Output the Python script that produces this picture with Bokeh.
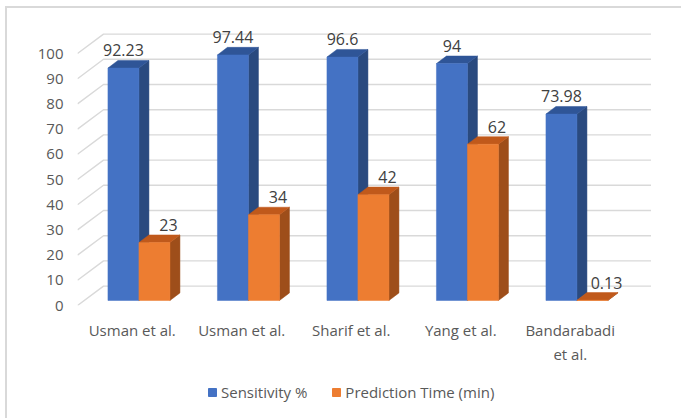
import numpy as np
from bokeh.plotting import figure
from bokeh.layouts import column
from bokeh.models import Range1d, FixedTicker, Legend, LegendItem, LinearAxis
from bokeh.core.properties import value
from bokeh.embed import file_html
from bokeh.resources import INLINE

# ---- data ----
studies_line1 = ["Usman et al.", "Usman et al.", "Sharif et al.", "Yang et al.", "Bandarabadi"]
studies_line2 = ["", "", "", "", "et al."]
sensitivity = [92.23, 97.44, 96.6, 94, 73.98]
prediction_time = [23, 34, 42, 62, 0.13]
y_ticks = [0, 10, 20, 30, 40, 50, 60, 70, 80, 90, 100]
series_names = ["Sensitivity %", "Prediction Time (min)"]

# ---- styling / geometry constants ----
FONT = "Open Sans"
PXX = 109.5   # px per category unit
PXY = 2.52    # px per value unit
FRAME_W, FRAME_H = 583, 285
WALL_DX, WALL_DY = 26 / PXX, 19.4 / PXY        # depth of the 3D box
BAR_DX0, BAR_DY0 = 6.7 / PXX, 5.0 / PXY        # front offset of bars
BAR_DDX, BAR_DDY = 10 / PXX, 7.6 / PXY         # bar depth
BAR_W = 31 / PXX
LABEL_GAP = 10 / PXY
ORANGE_LABEL_DX = 14 / PXX

BLUE = ("#4472C4", "#2F5597", "#2A4A7F")     # front, top, side
ORANGE = ("#ED7D31", "#C0591B", "#9E4E1A")
GRID = "#D9D9D9"
TXT = "#595959"

n = len(studies_line1)
centers = np.arange(n) + 0.5

p = figure(width=674, height=360, output_backend="svg", toolbar_location=None,
           x_range=Range1d(0, FRAME_W / PXX), y_range=Range1d(0, FRAME_H / PXY),
           min_border_left=70, min_border_right=21, min_border_top=12, min_border_bottom=63)
p.outline_line_color = None
p.xgrid.visible = False
p.ygrid.visible = False

# gridlines: back wall + left side wall
gx, gy = [], []
for v in y_ticks:
    gx.append([0, WALL_DX, n + WALL_DX])
    gy.append([v, v + WALL_DY, v + WALL_DY])
p.multi_line(gx, gy, line_color=GRID, line_width=1.4)

for s, (vals, cols) in enumerate([(sensitivity, BLUE), (prediction_time, ORANGE)]):
    vals = np.array(vals, dtype=float)
    xl = centers - BAR_W + s * BAR_W + BAR_DX0
    xr = xl + BAR_W
    b = BAR_DY0
    t = vals + BAR_DY0
    side_x = [[r, r, r + BAR_DDX, r + BAR_DDX] for r in xr]
    side_y = [[b, tt, tt + BAR_DDY, b + BAR_DDY] for tt in t]
    top_x = [[l, r, r + BAR_DDX, l + BAR_DDX] for l, r in zip(xl, xr)]
    top_y = [[tt, tt, tt + BAR_DDY, tt + BAR_DDY] for tt in t]
    p.patches(side_x, side_y, fill_color=cols[2], line_color=cols[2], line_width=0.5)
    p.patches(top_x, top_y, fill_color=cols[1], line_color=cols[1], line_width=0.5)
    p.vbar(x=(xl + xr) / 2, width=BAR_W, bottom=b, top=t,
           fill_color=cols[0], line_color=cols[0], line_width=0.5)
    lx = (xl + xr) / 2 + (ORANGE_LABEL_DX if s == 1 else 0)
    ly = t + BAR_DDY + LABEL_GAP
    p.text(x=lx, y=ly, text=[f"{v:g}" for v in vals], text_font=value(FONT),
           text_font_size="16px", text_color="#404040", text_align="center",
           text_baseline="alphabetic")

# axes
xaxis2 = LinearAxis()
p.add_layout(xaxis2, "below")
p.yaxis.ticker = FixedTicker(ticks=y_ticks)
p.xaxis[0].ticker = FixedTicker(ticks=list(centers))
p.xaxis[0].major_label_overrides = {float(c): lab for c, lab in zip(centers, studies_line1)}
xaxis2.ticker = FixedTicker(ticks=[float(c) for c, lab in zip(centers, studies_line2) if lab])
xaxis2.major_label_overrides = {float(c): lab for c, lab in zip(centers, studies_line2) if lab}
for ax in list(p.xaxis) + list(p.yaxis):
    ax.axis_line_color = None
    ax.major_tick_line_color = None
    ax.minor_tick_line_color = None
    ax.major_tick_out = 0
    ax.major_tick_in = 0
    ax.major_label_text_font = FONT
    ax.major_label_text_font_size = "15px"
    ax.major_label_text_color = TXT
p.yaxis.major_label_standoff = 14
p.xaxis[0].major_label_standoff = 14
xaxis2.major_label_standoff = 1

# legend figure (proxy glyphs sit outside the visible range)
lf = figure(width=674, height=50, output_backend="svg", toolbar_location=None,
            x_range=Range1d(0, 1), y_range=Range1d(0, 1),
            x_axis_location=None, y_axis_location=None,
            min_border_left=0, min_border_right=0, min_border_top=0, min_border_bottom=0)
lf.outline_line_color = None
lf.xgrid.visible = False
lf.ygrid.visible = False
lr = [lf.vbar(x=[-5], width=0.1, bottom=[-5], top=[-4], fill_color=c[0], line_color=c[0])
      for c in (BLUE, ORANGE)]
legend = Legend(items=[LegendItem(label=series_names[i], renderers=[lr[i]]) for i in range(2)],
                orientation="horizontal", location=(130, 16),
                glyph_width=10, glyph_height=10, label_standoff=4, spacing=24,
                padding=0, margin=0, border_line_color=None,
                background_fill_alpha=0,
                label_text_font=FONT, label_text_font_size="15px", label_text_color=TXT)
lf.add_layout(legend)

layout = column(p, lf, styles={"margin-left": "5px", "margin-top": "6px",
                               "border-left": "2px solid #D9D9D9",
                               "border-top": "2px solid #D9D9D9"})

open("out.html", "w").write(file_html(layout, INLINE))
